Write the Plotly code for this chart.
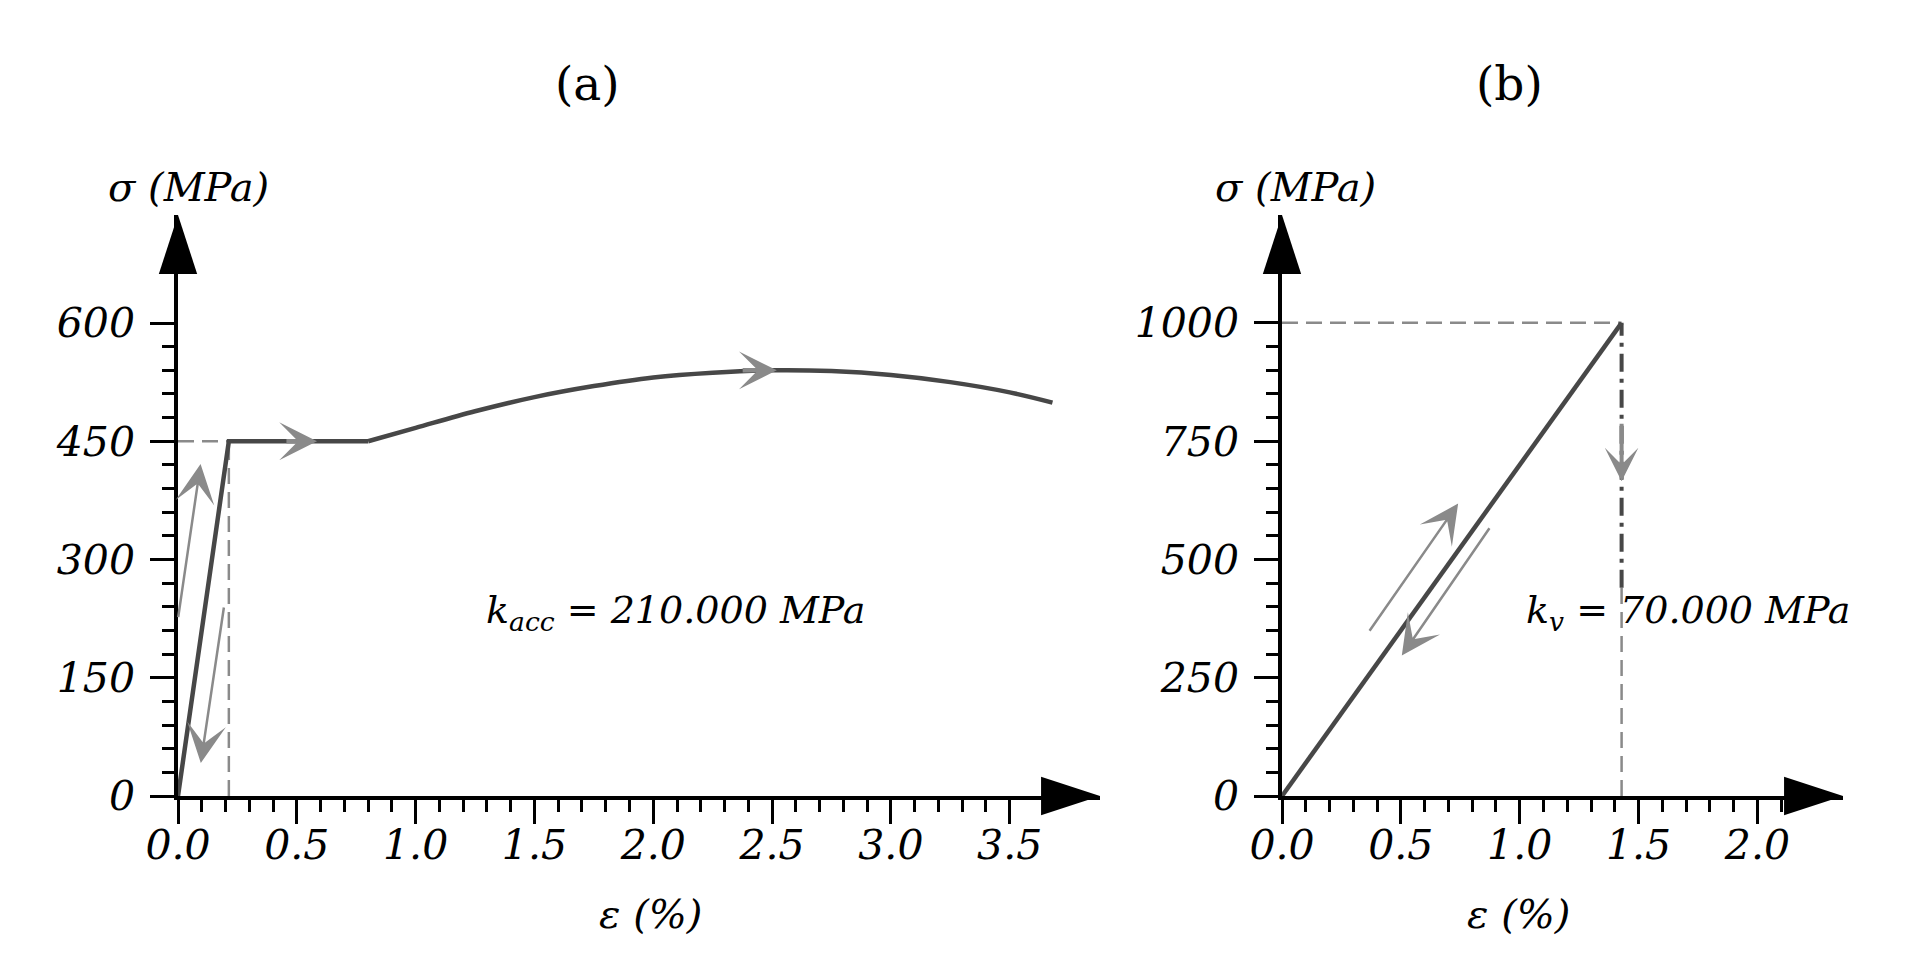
import plotly.graph_objects as go

# ---- data ----
# (a) steel: elastic branch, yield plateau, hardening curve
eps_a_el = [0.0, 0.214]
sig_a_el = [0, 450]
eps_a_pl = [0.214, 0.8]
sig_a_pl = [450, 450]
eps_a_hd = [0.8, 1.0, 1.25, 1.5, 1.75, 2.0, 2.25, 2.5, 2.75, 3.0, 3.25, 3.5, 3.68]
sig_a_hd = [450, 467, 488, 506, 520, 531, 537, 540, 539, 534, 525, 512, 499]

# (b) brittle material: linear up to failure
eps_b = [0.0, 1.4286]
sig_b = [0, 1000]
sig_b_drop = 440   # dash-dot drop ends here

# gray direction arrows: [tail_x, tail_y, head_x, head_y]
arrows_a = [[0.0, 225, 0.095, 421], [0.194, 241, 0.096, 42]]
arrows_b = [[0.364, 346, 0.741, 618], [0.877, 569, 0.504, 297]]
# arrowheads sitting on the curves
heads_a = [[0.45, 450, 0.585, 450], [2.37, 540, 2.52, 540]]
heads_b = [[1.4286, 790, 1.4286, 665]]

# ticks
xa_major = [0, 0.5, 1.0, 1.5, 2.0, 2.5, 3.0, 3.5]
xa_minor = [round(i * 0.1, 1) for i in range(0, 36)]
ya_major = [0, 150, 300, 450, 600]
ya_minor = list(range(0, 601, 30))
xb_major = [0, 0.5, 1.0, 1.5, 2.0]
xb_minor = [round(i * 0.1, 1) for i in range(0, 22)]
yb_major = [0, 250, 500, 750, 1000]
yb_minor = list(range(0, 1001, 50))

xa_range = [0, 3.88]
ya_range = [0, 737]
xb_range = [0, 2.36]
yb_range = [0, 1228]

DARK = "#474747"
GRAY = "#8a8a8a"
FONT = "DejaVu Serif"

# figure sits inside the 8px body margin of the page
W, H = 1904, 947


def xp(px):
    return (px - 8) / W


def yp(py):
    return 1 - (py - 8) / H


fig = go.Figure()

# guide lines (a)
fig.add_trace(go.Scatter(x=[0, eps_a_el[1]], y=[sig_a_el[1], sig_a_el[1]], mode="lines",
                         line=dict(color=GRAY, width=2.5, dash="16px,8px"), xaxis="x", yaxis="y"))
fig.add_trace(go.Scatter(x=[eps_a_el[1], eps_a_el[1]], y=[0, sig_a_el[1]], mode="lines",
                         line=dict(color=GRAY, width=2.5, dash="16px,8px"), xaxis="x", yaxis="y"))
# curve (a)
fig.add_trace(go.Scatter(x=eps_a_el + eps_a_pl[1:], y=sig_a_el + sig_a_pl[1:], mode="lines",
                         line=dict(color=DARK, width=4.5), xaxis="x", yaxis="y"))
fig.add_trace(go.Scatter(x=eps_a_hd, y=sig_a_hd, mode="lines", line_shape="spline",
                         line=dict(color=DARK, width=4.5), xaxis="x", yaxis="y"))

# guide lines (b)
fig.add_trace(go.Scatter(x=[0, eps_b[1]], y=[sig_b[1], sig_b[1]], mode="lines",
                         line=dict(color=GRAY, width=2.5, dash="16px,8px"), xaxis="x2", yaxis="y2"))
fig.add_trace(go.Scatter(x=[eps_b[1], eps_b[1]], y=[0, sig_b_drop], mode="lines",
                         line=dict(color=GRAY, width=2.5, dash="16px,8px"), xaxis="x2", yaxis="y2"))
fig.add_trace(go.Scatter(x=[eps_b[1], eps_b[1]], y=[sig_b_drop, sig_b[1]], mode="lines",
                         line=dict(color=DARK, width=4, dash="18px,7px,4px,7px"), xaxis="x2", yaxis="y2"))
# curve (b)
fig.add_trace(go.Scatter(x=eps_b, y=sig_b, mode="lines",
                         line=dict(color=DARK, width=4.5), xaxis="x2", yaxis="y2"))

# axis arrowheads (tip sits on the end of each axis range)
for xr, yr, xr_, yr_ in [("x", "y", xa_range, ya_range), ("x2", "y2", xb_range, yb_range)]:
    fig.add_trace(go.Scatter(x=[xr_[1], 0], y=[0, yr_[1]], mode="markers", cliponaxis=False,
                             marker=dict(symbol="arrow", size=62, angle=[90, 0], color="black",
                                         line=dict(width=0)),
                             xaxis=xr, yaxis=yr))

tickfont = dict(family=FONT, size=41, color="black", style="italic")


def xaxis_cfg(dom, rng, major, minor):
    return dict(domain=dom, range=rng, showline=True, linecolor="black", linewidth=3.5,
                showgrid=False, zeroline=False, ticks="outside", tickvals=major,
                tickformat=".1f", ticklen=24, tickwidth=3, tickcolor="black",
                tickfont=tickfont, ticklabelstandoff=-14, automargin=False,
                minor=dict(tickmode="array", tickvals=minor, ticks="outside",
                           ticklen=12, tickwidth=3, tickcolor="black", showgrid=False))


def yaxis_cfg(dom, rng, major, minor, anchor):
    return dict(domain=dom, range=rng, anchor=anchor, showline=True, linecolor="black",
                linewidth=3.5, showgrid=False, zeroline=False, ticks="outside",
                tickvals=major, ticklen=24, tickwidth=3, tickcolor="black",
                tickfont=tickfont, ticklabelstandoff=7, automargin=False,
                minor=dict(tickmode="array", tickvals=minor, ticks="outside",
                           ticklen=12, tickwidth=3, tickcolor="black", showgrid=False))


ydom = [yp(796), yp(215)]
fig.update_layout(
    width=W, height=H, margin=dict(l=0, r=0, t=0, b=0, autoexpand=False),
    plot_bgcolor="white", paper_bgcolor="white", showlegend=False,
    xaxis=xaxis_cfg([xp(178), xp(1100)], xa_range, xa_major, xa_minor) | dict(anchor="y"),
    yaxis=yaxis_cfg(ydom, ya_range, ya_major, ya_minor, "x"),
    xaxis2=xaxis_cfg([xp(1282), xp(1843)], xb_range, xb_major, xb_minor) | dict(anchor="y2"),
    yaxis2=yaxis_cfg(ydom, yb_range, yb_major, yb_minor, "x2"),
)

ann = []
# direction arrows
for xr, yr, lst, w, s in [("x", "y", arrows_a, 2.5, 2.6), ("x2", "y2", arrows_b, 2.5, 2.6),
                          ("x", "y", heads_a, 4.5, 1.4), ("x2", "y2", heads_b, 4, 1.4)]:
    for tx, ty, hx, hy in lst:
        ann.append(dict(x=hx, y=hy, ax=tx, ay=ty, xref=xr, yref=yr, axref=xr, ayref=yr,
                        text="", showarrow=True, arrowhead=3, arrowwidth=w, arrowsize=s,
                        arrowcolor=GRAY))

lab = dict(family=FONT, size=40, color="black", style="italic")
klab = dict(family=FONT, size=38, color="black", style="italic")


def label(px, py, text, font):
    return dict(x=xp(px), y=yp(py), xref="paper", yref="paper", text=text,
                xanchor="center", yanchor="middle", showarrow=False, font=font)


# axis titles
ann.append(label(188, 187, "σ (MPa)", lab))
ann.append(label(1295, 187, "σ (MPa)", lab))
ann.append(label(650, 914, "ε (%)", lab))
ann.append(label(1518, 914, "ε (%)", lab))
# panel titles
ttl = dict(family=FONT, size=47, color="black")
ann.append(label(587, 83, "(a)", ttl))
ann.append(label(1509, 83, "(b)", ttl))
# stiffness labels
ann.append(label(675, 612, "k<sub>acc</sub> = 210.000 MPa", klab))
ann.append(label(1688, 612, "k<sub>v</sub> = 70.000 MPa", klab))

fig.update_layout(annotations=ann)
fig.write_html("out.html")
